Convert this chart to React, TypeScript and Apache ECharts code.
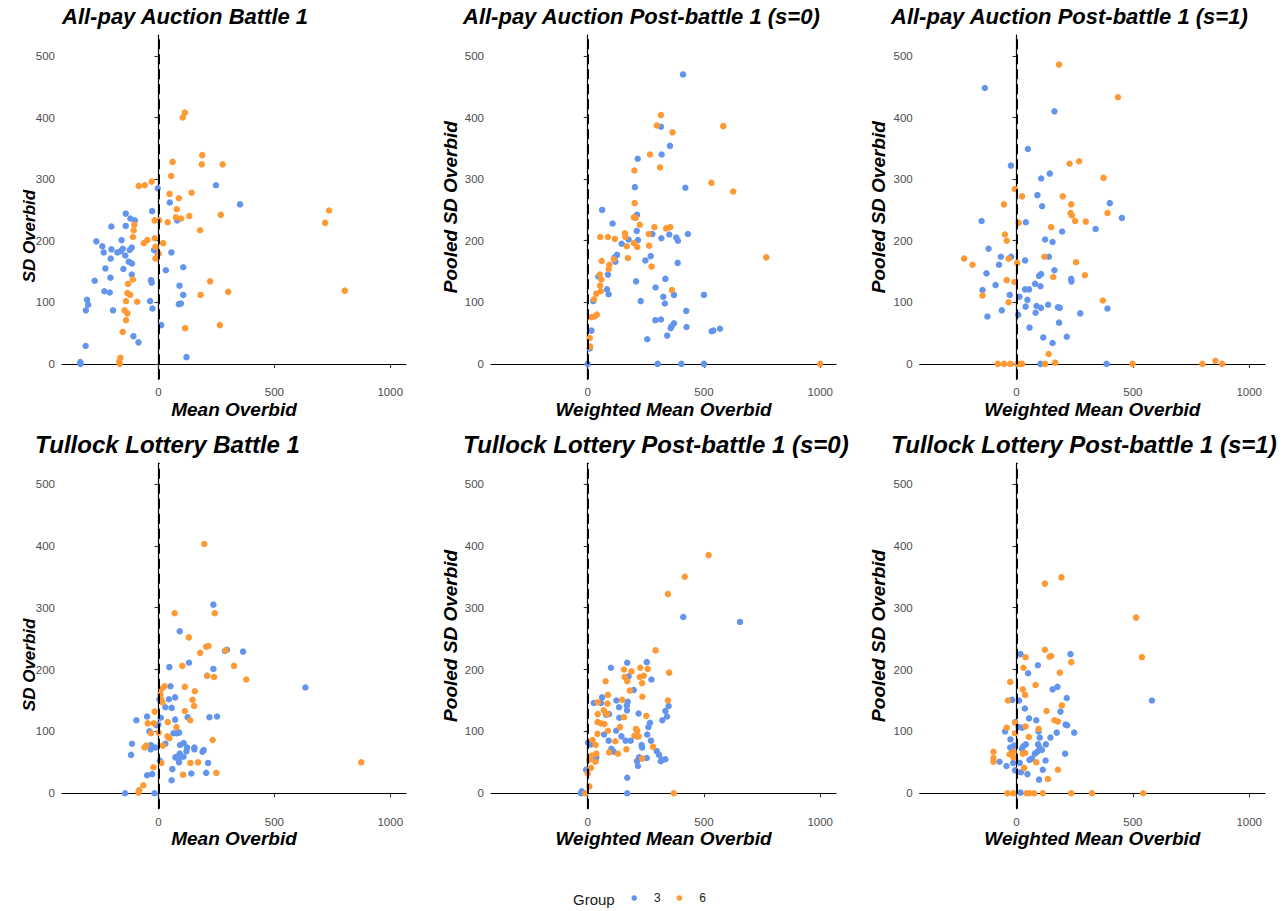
import React, { useEffect, useRef } from "react";
import * as echarts from "echarts";

type P = [number, number];

// All-pay Auction Battle 1
const apB1G3: P[] = [[-3,285],[248,290],[352,259],[49,262],[-27,248],[-141,244],[-121,236],[-102,233],[81,233],[-203,223],[-141,224],[-268,199],[-242,191],[-159,201],[-203,186],[-236,181],[-154,187],[-163,183],[-115,189],[-124,185],[-177,181],[-143,176],[-19,185],[-3,179],[56,181],[-206,171],[-128,166],[-114,163],[-229,155],[-151,154],[32,152],[107,157],[-207,140],[-115,145],[-275,135],[-32,136],[-29,132],[91,127],[-233,118],[-210,116],[107,112],[-308,104],[-303,96],[-313,87],[-196,87],[-36,102],[-26,90],[88,97],[97,98],[12,63],[-108,45],[-86,35],[-314,29],[-337,3],[-336,0],[121,11]];
const apB1G6: P[] = [[114,408],[105,400],[189,339],[61,328],[187,324],[277,324],[55,305],[-29,296],[-85,289],[-59,290],[48,276],[88,269],[143,278],[79,251],[269,242],[133,240],[75,238],[98,236],[-16,233],[3,233],[40,230],[-104,226],[-107,217],[180,217],[-110,206],[-16,204],[-63,196],[-48,201],[20,196],[-13,190],[1,179],[-13,171],[736,249],[719,229],[804,119],[223,134],[301,117],[182,112],[-110,137],[-131,130],[-134,115],[-122,112],[-140,102],[-92,101],[-146,87],[-134,82],[-140,71],[-154,52],[115,58],[265,63],[-164,10],[-169,4],[-167,0]];

// All-pay Auction Post-battle 1 (s=0)
const apP0G3: P[] = [[410,470],[315,385],[354,354],[318,340],[215,333],[203,287],[420,286],[62,250],[212,242],[107,228],[211,216],[278,211],[317,204],[351,210],[381,205],[388,200],[431,211],[176,202],[216,201],[146,195],[126,177],[116,173],[119,166],[271,175],[248,168],[387,164],[87,145],[46,142],[208,134],[334,138],[292,124],[83,121],[90,113],[325,109],[332,98],[371,112],[500,112],[228,102],[24,102],[424,86],[291,71],[315,72],[371,66],[361,61],[357,58],[425,60],[533,53],[540,54],[569,57],[342,46],[256,40],[16,54],[9,25],[0,0],[301,0],[403,0],[500,0]];
const apP0G6: P[] = [[315,404],[297,387],[583,386],[365,376],[268,340],[311,319],[201,314],[532,294],[626,280],[202,261],[198,238],[206,237],[224,226],[287,222],[337,220],[355,222],[262,211],[160,212],[162,206],[54,206],[87,206],[117,203],[199,196],[213,190],[168,191],[264,192],[173,172],[275,158],[768,173],[60,167],[93,161],[90,154],[112,170],[52,145],[59,137],[53,127],[56,118],[37,114],[362,120],[27,105],[39,80],[30,77],[16,76],[9,42],[11,28],[1000,0]];

// All-pay Auction Post-battle 1 (s=1)
const apP1G3: P[] = [[-136,448],[163,410],[49,349],[-24,322],[143,309],[106,301],[90,274],[110,256],[401,261],[453,237],[-150,232],[40,230],[340,219],[196,215],[123,202],[155,198],[-120,187],[-67,174],[-23,174],[-75,161],[37,168],[139,174],[163,152],[-129,147],[97,143],[106,146],[235,138],[236,134],[-90,128],[80,130],[103,126],[37,121],[54,121],[-146,120],[-29,112],[13,109],[47,104],[136,96],[39,93],[86,94],[105,91],[178,92],[186,91],[391,90],[-63,87],[82,83],[7,80],[-125,77],[274,82],[183,67],[56,59],[115,43],[155,34],[216,44],[103,0],[387,0]];
const apP1G6: P[] = [[183,486],[436,433],[269,329],[228,325],[374,302],[-7,284],[24,272],[199,272],[-54,259],[235,259],[391,245],[232,245],[238,241],[252,232],[298,231],[9,229],[149,222],[-50,210],[-42,200],[-225,171],[-189,161],[-34,171],[3,164],[120,174],[256,165],[294,144],[158,141],[-42,136],[-9,133],[-146,111],[371,103],[-34,100],[138,16],[166,2],[-80,0],[-53,0],[-26,0],[4,0],[14,0],[24,0],[123,0],[499,0],[799,0],[855,5],[884,0]];

// Tullock Lottery Battle 1
const tlB1G3: P[] = [[237,305],[92,262],[287,230],[296,232],[365,229],[132,211],[47,204],[237,201],[210,190],[634,171],[52,173],[45,152],[72,155],[4,152],[30,139],[57,138],[10,122],[-49,124],[-95,118],[72,119],[126,123],[220,123],[253,124],[-9,110],[0,111],[-39,100],[65,97],[79,97],[89,98],[-114,80],[-32,78],[-33,71],[-13,74],[30,80],[93,78],[109,81],[124,74],[121,68],[155,74],[155,71],[190,67],[195,70],[-118,62],[78,59],[92,64],[88,56],[108,59],[73,58],[6,53],[89,50],[214,49],[60,39],[-49,29],[-27,31],[206,33],[142,32],[57,21],[-144,0],[-17,0]];
const tlB1G6: P[] = [[198,403],[70,291],[243,291],[131,252],[206,237],[216,238],[180,227],[290,231],[326,206],[103,206],[240,188],[379,184],[211,190],[27,173],[14,169],[114,172],[157,165],[9,160],[12,152],[147,151],[154,141],[17,147],[-16,132],[114,133],[40,115],[78,107],[-46,113],[-20,113],[137,118],[-32,97],[1,98],[39,92],[47,89],[234,86],[19,77],[-60,74],[-53,77],[875,50],[138,49],[171,50],[13,49],[-22,42],[106,30],[250,33],[-65,13],[-83,5],[-86,1]];

// Tullock Lottery Post-battle 1 (s=0)
const tlP0G3: P[] = [[411,285],[655,277],[170,211],[254,212],[100,203],[176,189],[274,184],[198,167],[62,155],[123,150],[172,148],[26,146],[57,146],[135,139],[168,142],[169,134],[348,141],[334,133],[341,124],[321,118],[79,127],[92,128],[219,129],[136,122],[268,114],[261,107],[122,101],[256,95],[70,95],[145,92],[213,92],[90,85],[163,85],[185,85],[272,85],[232,78],[234,74],[1,82],[13,79],[102,72],[112,67],[297,68],[307,62],[314,52],[334,55],[321,54],[254,57],[221,58],[212,52],[216,44],[37,58],[34,54],[-7,38],[170,25],[170,0],[-26,3],[-29,0]];
const tlP0G6: P[] = [[520,385],[417,350],[345,322],[292,231],[350,195],[156,200],[188,197],[226,203],[258,201],[159,188],[170,181],[224,188],[241,190],[234,178],[77,181],[181,166],[87,159],[85,145],[148,151],[235,156],[345,150],[43,147],[69,134],[83,128],[43,128],[156,123],[252,125],[42,115],[57,113],[72,112],[139,107],[87,101],[208,104],[213,101],[42,96],[219,92],[201,93],[119,84],[21,86],[34,78],[92,66],[130,64],[166,71],[281,75],[19,61],[37,64],[33,51],[6,54],[14,41],[0,32],[7,11],[-10,0],[370,0],[234,56]];

// Tullock Lottery Post-battle 1 (s=1)
const tlP1G3: P[] = [[17,225],[232,225],[92,207],[50,194],[155,168],[176,172],[-19,151],[11,150],[216,154],[582,150],[36,137],[189,132],[54,121],[85,118],[-6,115],[9,107],[24,106],[211,111],[218,110],[95,100],[173,98],[248,98],[-49,100],[-26,87],[100,90],[146,90],[-27,74],[-10,77],[-19,71],[29,76],[40,79],[23,72],[93,79],[100,73],[126,79],[109,70],[89,67],[79,64],[209,64],[56,54],[66,56],[125,53],[-73,51],[-43,44],[-14,49],[14,49],[-6,37],[19,34],[47,31],[113,38],[97,22],[17,1]];
const tlP1G6: P[] = [[193,349],[122,339],[514,284],[122,232],[142,221],[149,222],[539,220],[39,220],[235,212],[30,203],[186,195],[-27,180],[82,175],[27,168],[37,159],[-37,150],[195,142],[129,133],[163,118],[178,116],[-6,114],[39,108],[-42,106],[95,104],[-6,97],[53,91],[-99,67],[-99,57],[-99,51],[-30,63],[-13,67],[-13,58],[27,64],[37,65],[85,50],[33,41],[178,38],[135,23],[-39,0],[-14,0],[43,0],[56,0],[76,0],[113,0],[235,0],[325,0],[544,0]];

const panelTitles = [
  "All-pay Auction Battle 1",
  "All-pay Auction Post-battle 1 (s=0)",
  "All-pay Auction Post-battle 1 (s=1)",
  "Tullock Lottery Battle 1",
  "Tullock Lottery Post-battle 1 (s=0)",
  "Tullock Lottery Post-battle 1 (s=1)",
];
const xTitles = ["Mean Overbid", "Weighted Mean Overbid", "Weighted Mean Overbid", "Mean Overbid", "Weighted Mean Overbid", "Weighted Mean Overbid"];
const yTitles = ["SD Overbid", "Pooled SD Overbid", "Pooled SD Overbid", "SD Overbid", "Pooled SD Overbid", "Pooled SD Overbid"];
const groups = ["3", "6"];
const xTicks = [0, 500, 1000];
const yTicks = [0, 100, 200, 300, 400, 500];

const panelData: P[][][] = [
  [apB1G3, apB1G6],
  [apP0G3, apP0G6],
  [apP1G3, apP1G6],
  [tlB1G3, tlB1G6],
  [tlP0G3, tlP0G6],
  [tlP1G3, tlP1G6],
];

const BLUE = "#6495ED";
const ORANGE = "#FF9933";
const FONT = '"Liberation Sans", Arial, Helvetica, sans-serif';

const colLeft = [62, 491, 919.7];
const colWidth = [344, 345, 345.3];
const titleLeft = [[62, 463, 891], [35, 463, 891]];
const titleSize = [22, 24];
const titleY = [16, 444];
const rowTop = [35, 463];
const rowHeight = [344.3, 345.7];

export default function App() {
  const ref = useRef<HTMLDivElement>(null);
  useEffect(() => {
    if (!ref.current) return;
    const chart = echarts.init(ref.current, undefined, { renderer: "svg" });
    const grids: any[] = [];
    const xAxes: any[] = [];
    const yAxes: any[] = [];
    const series: any[] = [];
    const graphics: any[] = [];
    const fmt = (v: number) => String(v);
    for (let i = 0; i < 6; i++) {
      const c = i % 3;
      const r = Math.floor(i / 3);
      const left = colLeft[c];
      const top = rowTop[r];
      const w = colWidth[c];
      const h = rowHeight[r];
      grids.push({ left, top, width: w, height: h, containLabel: false });
      const axisCommon = {
        axisLine: { show: true, lineStyle: { color: "#000", width: 1.2 } },
        splitLine: { show: false },
      };
      xAxes.push({
        type: "value", gridIndex: i, min: -416, max: 1068,
        ...axisCommon,
        axisTick: { show: true, length: 4, lineStyle: { color: "#333", width: 1.1 }, customValues: xTicks },
        axisLabel: { customValues: xTicks, formatter: fmt, margin: 7, fontSize: 11.5, color: "#4D4D4D", fontFamily: FONT },
      });
      yAxes.push({
        type: "value", gridIndex: i, min: -25, max: 534,
        ...axisCommon,
        axisTick: { show: true, length: 4, lineStyle: { color: "#333", width: 1.1 }, customValues: yTicks },
        axisLabel: { customValues: yTicks, formatter: fmt, margin: 7, fontSize: 11.5, color: "#4D4D4D", fontFamily: FONT },
      });
      groups.forEach((g, gi) => {
        series.push({
          type: "scatter", name: g, xAxisIndex: i, yAxisIndex: i,
          data: panelData[i][gi], symbolSize: 6.5,
          itemStyle: { color: gi === 0 ? BLUE : ORANGE, opacity: 1 },
          emphasis: { disabled: true },
        });
      });
      series.push({
        type: "scatter", name: "vline" + i, xAxisIndex: i, yAxisIndex: i, data: [], z: 10,
        markLine: {
          silent: true, symbol: ["none", "none"], label: { show: false },
          lineStyle: { color: "#000", width: 2, type: [10, 5] },
          emphasis: { disabled: true },
          data: [{ xAxis: 0 }],
        },
      });
      // panel title
      graphics.push({
        type: "text", x: titleLeft[r][c], y: titleY[r],
        style: { text: panelTitles[i], font: `italic bold ${titleSize[r]}px ${FONT}`, fill: "#000", textAlign: "left", textVerticalAlign: "middle" },
      });
      // x title
      graphics.push({
        type: "text", x: left + w / 2, y: top + h + 30,
        style: { text: xTitles[i], font: `italic bold 19px ${FONT}`, fill: "#000", textAlign: "center", textVerticalAlign: "middle" },
      });
      // y title
      const isSD = yTitles[i] === "SD Overbid";
      graphics.push({
        type: "text", x: c === 0 ? 29 : left - 41, y: top + h / 2 + (isSD ? 29 : 0), rotation: Math.PI / 2,
        style: { text: yTitles[i], font: `italic bold ${isSD ? 17 : 19}px ${FONT}`, fill: "#000", textAlign: "center", textVerticalAlign: "middle" },
      });
    }
    graphics.push({
      type: "text", x: 573, y: 899.5,
      style: { text: "Group", font: `15px ${FONT}`, fill: "#1a1a1a", textAlign: "left", textVerticalAlign: "middle" },
    });
    chart.setOption({
      animation: false,
      backgroundColor: "#fff",
      grid: grids,
      xAxis: xAxes,
      yAxis: yAxes,
      series,
      graphic: graphics,
      legend: {
        data: groups, left: 631.5, top: 892, orient: "horizontal",
        icon: "circle", itemWidth: 5.5, itemHeight: 5.5, itemGap: 16,
        selectedMode: false, padding: 0,
        textStyle: { fontSize: 12, color: "#1a1a1a", fontFamily: FONT, padding: [0, 0, 0, 12] },
      },
    });
    return () => chart.dispose();
  }, []);
  return <div ref={ref} style={{ position: "fixed", left: 0, top: 0, width: 1288, height: 911 }} />;
}
